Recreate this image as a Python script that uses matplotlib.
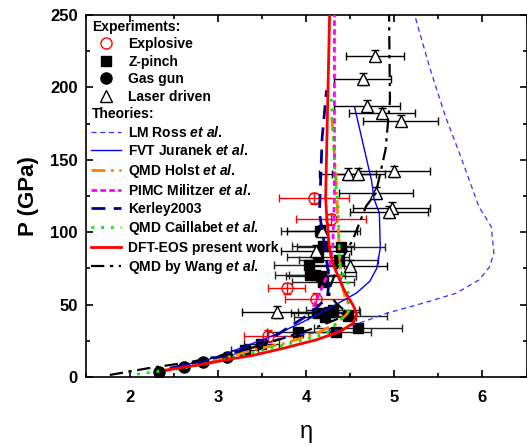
import matplotlib
matplotlib.use('Agg')
import matplotlib.pyplot as plt
from matplotlib.lines import Line2D
from matplotlib.ticker import MultipleLocator

plt.rcParams['font.family'] = ['Liberation Sans', 'DejaVu Sans']
plt.rcParams['mathtext.fontset'] = 'custom'
plt.rcParams['mathtext.it'] = 'Liberation Sans:italic:bold'
plt.rcParams['mathtext.rm'] = 'Liberation Sans:bold'
plt.rcParams['mathtext.bf'] = 'Liberation Sans:bold'

# ---------------- experimental data ----------------
ex_eta = [4.09, 4.28, 3.78, 4.11, 3.57]
ex_P = [123.4, 108.9, 61.2, 53.7, 28.5]
ex_xerr = [0.40, 0.40, 0.21, 0.35, 0.28]
ex_yerr = [4, 4, 4, 4, 4]

zp_eta = [3.30, 3.49, 3.91, 4.34, 4.59, 4.47, 4.26, 4.13, 4.21, 4.30, 4.19,
          4.04, 4.10, 4.17, 4.03, 4.37, 4.13, 4.39, 4.19, 4.16]
zp_P = [18.6, 22.5, 31.3, 31.3, 33.6, 42.1, 45.1, 44.0, 41.6, 46.0, 65.8,
        70.4, 70.4, 69.5, 77.3, 80.8, 82.7, 89.6, 90.5, 100.5]
zp_xerr = [0.15, 0.20, 0.35, 0.40, 0.50, 0.45, 0.35, 0.30, 0.35, 0.30, 0.35,
           0.40, 0.30, 0.40, 0.40, 0.45, 0.35, 0.50, 0.35, 0.45]
zp_yerr = [1.5] * 20

gg_eta = [2.33, 2.61, 2.83, 3.10]
gg_P = [3.7, 6.7, 10.1, 14.0]

ld_eta = [4.78, 4.64, 4.69, 4.86, 5.07, 4.47, 4.59, 5.00, 4.79, 4.97, 4.94,
          4.18, 4.11, 4.50, 3.67]
ld_P = [222, 206, 187, 182, 177, 140, 140, 142, 127, 117, 114, 101, 87, 77, 45]
ld_xerr = [0.33, 0.32, 0.37, 0.38, 0.43, 0.32, 0.30, 0.40, 0.42, 0.44, 0.44,
           0.40, 0.40, 0.42, 0.40]
ld_yerr = [4] * 15

# ---------------- theoretical curves ----------------
ross_eta = [2.40, 2.90, 3.30, 3.74, 4.38, 4.64, 4.91, 5.32, 5.70, 5.96, 6.08,
            6.13, 6.10, 5.96, 5.74, 5.58, 5.40, 5.23]
ross_P = [4.0, 10.0, 18.0, 27.8, 32.5, 38.0, 44.0, 50.9, 57.8, 67.0, 76.0,
          85.6, 103.8, 117.6, 154.4, 179.8, 214.0, 250.0]

fvt_eta = [2.60, 2.87, 3.15, 3.59, 3.93, 4.26, 4.57, 4.72, 4.80, 4.84, 4.83,
           4.77, 4.74, 4.55]
fvt_P = [8.0, 11.7, 17.5, 27.8, 37.0, 47.4, 58.0, 66.0, 75.0, 89.0, 113.0,
         123.0, 136.0, 186.0]

holst_eta = [2.90, 3.40, 3.74, 4.11, 4.35, 4.47, 4.49, 4.45, 4.40, 4.38,
             4.36, 4.34, 4.29]
holst_P = [10.0, 18.8, 23.0, 30.0, 37.0, 44.0, 50.0, 53.0, 65.0, 83.0,
           106.0, 136.0, 180.0]

pimc_eta = [4.08, 4.15, 4.25, 4.30, 4.32, 4.32, 4.32]
pimc_P = [48.5, 57.8, 72.0, 90.0, 124.0, 136.0, 250.0]

kerley_eta = [2.45, 3.02, 3.36, 3.49, 3.81, 4.05, 4.24, 4.26, 4.21, 4.15,
              4.16, 4.18, 4.23]
kerley_P = [6.0, 14.0, 20.0, 22.0, 34.7, 44.0, 55.0, 67.0, 90.0, 113.0,
            130.0, 165.0, 198.0]

cail_eta = [2.08, 2.60, 3.00, 3.40, 3.81, 4.23, 4.49, 4.47, 4.38, 4.36,
            4.34, 4.28]
cail_P = [2.0, 6.0, 11.0, 17.0, 23.0, 30.0, 46.0, 64.7, 76.0, 122.0,
          127.0, 196.0]

dft_eta = [2.41, 2.80, 3.15, 3.40, 3.74, 4.11, 4.38, 4.53, 4.57, 4.55, 4.53,
           4.43, 4.30, 4.26, 4.23, 4.22, 4.24, 4.265]
dft_P = [4.8, 8.5, 12.5, 15.0, 19.8, 25.6, 31.3, 37.0, 42.8, 47.0, 49.7,
         60.0, 78.5, 90.0, 113.0, 124.0, 180.0, 250.0]

wang_eta = [1.77, 2.20, 2.70, 3.20, 3.70, 4.10, 4.35, 4.45, 4.34, 4.26,
            4.27, 4.35, 4.43, 4.53, 4.68, 4.79, 4.90, 4.95, 4.94]
wang_P = [1.4, 6.0, 10.5, 17.0, 26.0, 34.0, 40.0, 45.0, 51.0, 57.0, 62.0,
          75.0, 84.0, 95.0, 118.0, 127.0, 157.0, 191.0, 250.0]

# ---------------- figure ----------------
fig = plt.figure(figsize=(5.27, 4.47), dpi=100)
ax = fig.add_axes([86 / 527, 1 - 377 / 447, (526.5 - 86) / 527, (377 - 15) / 447])

# experiments
ax.errorbar(zp_eta, zp_P, xerr=zp_xerr, yerr=zp_yerr, fmt='s', color='black',
            ms=7.5, ecolor='#222222', elinewidth=1, capsize=3, zorder=3)
ax.errorbar(ld_eta, ld_P, xerr=ld_xerr, yerr=ld_yerr, fmt='^', mfc='white',
            mec='black', ms=8, ecolor='black', elinewidth=1, capsize=3, zorder=3)
ax.errorbar(ex_eta, ex_P, xerr=ex_xerr, yerr=ex_yerr, fmt='o', mfc='none',
            mec='red', ms=8, ecolor='red', elinewidth=1, capsize=3, zorder=3)
ax.plot(gg_eta, gg_P, 'o', color='black', ms=8, zorder=3)

# theories
ross_ls = (0, (4, 3))
holst_ls = (0, (5, 2, 1, 2))
pimc_ls = (0, (2, 1.2))
kerley_ls = (0, (5, 3))
cail_ls = (0, (1, 2.5))
wang_ls = (0, (6, 2.5, 1.5, 2.5))
ax.plot(ross_eta, ross_P, color='#3030ff', lw=0.9, ls=ross_ls, zorder=4)
ax.plot(fvt_eta, fvt_P, color='#0000ff', lw=1.0, ls='-', zorder=4)
ax.plot(holst_eta, holst_P, color='#ff8000', lw=2, ls=holst_ls, zorder=4)
ax.plot(pimc_eta, pimc_P, color='#ff00ff', lw=2, ls=pimc_ls, zorder=4)
ax.plot(kerley_eta, kerley_P, color='#000090', lw=2, ls=kerley_ls, zorder=4)
ax.plot(cail_eta, cail_P, color='#00ee00', lw=2, ls=cail_ls, zorder=4)
ax.plot(dft_eta, dft_P, color='#ff0000', lw=2, ls='-', zorder=5)
ax.plot(wang_eta, wang_P, color='black', lw=1.6, ls=wang_ls, zorder=4)

ax.set_xlim(1.5, 6.5)
ax.set_ylim(0, 250)
ax.xaxis.set_major_locator(MultipleLocator(1))
ax.xaxis.set_minor_locator(MultipleLocator(0.5))
ax.yaxis.set_major_locator(MultipleLocator(50))
ax.yaxis.set_minor_locator(MultipleLocator(25))
ax.tick_params(which='both', direction='in', top=True, right=True, width=1.2)
ax.tick_params(which='major', length=5, labelsize=12)
ax.tick_params(axis='x', which='major', pad=9)
ax.tick_params(axis='y', which='major', pad=6)
ax.tick_params(which='minor', length=3)
for lab in ax.get_xticklabels() + ax.get_yticklabels():
    lab.set_fontweight('bold')
for s in ax.spines.values():
    s.set_linewidth(1.2)

ax.set_ylabel('P (GPa)', fontsize=16, fontweight='bold', labelpad=8)
ax.set_xlabel('η', fontsize=17, labelpad=12)

# legend
blank = Line2D([], [], linestyle='none')
handles = [
    blank,
    Line2D([], [], ls='none', marker='o', mfc='none', mec='red', ms=8),
    Line2D([], [], ls='none', marker='s', color='black', ms=7.5),
    Line2D([], [], ls='none', marker='o', color='black', ms=8),
    Line2D([], [], ls='none', marker='^', mfc='white', mec='black', ms=8),
    blank,
    Line2D([], [], color='#3030ff', lw=0.9, ls=ross_ls),
    Line2D([], [], color='#0000ff', lw=1.0),
    Line2D([], [], color='#ff8000', lw=2, ls=holst_ls),
    Line2D([], [], color='#ff00ff', lw=2, ls=pimc_ls),
    Line2D([], [], color='#000090', lw=2, ls=kerley_ls),
    Line2D([], [], color='#00ee00', lw=2, ls=cail_ls),
    Line2D([], [], color='#ff0000', lw=2),
    Line2D([], [], color='black', lw=1.6, ls=wang_ls),
]
labels = [
    'Experiments:', 'Explosive', 'Z-pinch', 'Gas gun', 'Laser driven',
    'Theories:',
    r'LM Ross $\mathit{et\ al.}$', r'FVT Juranek $\mathit{et\ al.}$',
    r'QMD Holst $\mathit{et\ al.}$', r'PIMC Militzer $\mathit{et\ al.}$',
    'Kerley2003', r'QMD Caillabet $\mathit{et\ al.}$',
    'DFT-EOS present work', r'QMD by Wang $\mathit{et\ al.}$',
]
hl, htp = 2.2, 0.5
leg = ax.legend(handles, labels, loc='upper left', bbox_to_anchor=(0, 1),
                frameon=False, prop={'weight': 'bold', 'size': 10},
                handlelength=hl, handletextpad=htp, labelspacing=0.25,
                borderaxespad=0.15, borderpad=0.2)
texts = leg.get_texts()
shift = (hl + htp) * 10 * 100 / 72
for i in (0, 5):
    texts[i].set_x(-shift + 1)

fig.savefig('out.png', dpi=100)
